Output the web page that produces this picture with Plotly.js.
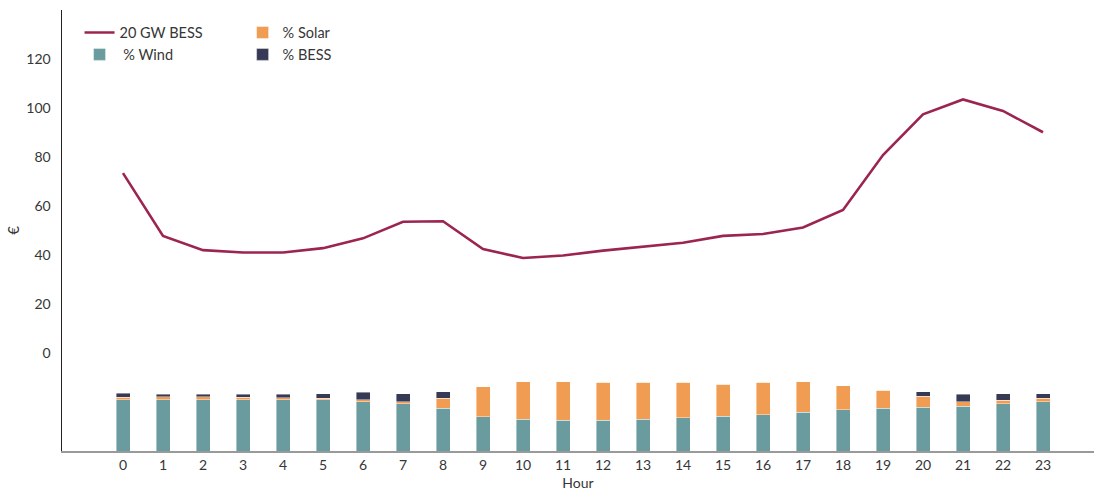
<!DOCTYPE html>
<html>
<head>
<meta charset="utf-8">
<script src="https://cdn.plot.ly/plotly-3.0.1.min.js"></script>
<style>
  html, body { margin: 0; padding: 0; background: #ffffff; }
  #chart { width: 1096px; height: 491px; }
</style>
</head>
<body>
<div id="chart"></div>
<script>
// Hours of the day
const hours = [0, 1, 2, 3, 4, 5, 6, 7, 8, 9, 10, 11, 12, 13, 14, 15, 16, 17, 18, 19, 20, 21, 22, 23];

// Hourly price with 20 GW of battery storage (€)
const priceBess = [73.4, 47.8, 42.0, 41.0, 41.0, 42.8, 46.8, 53.6, 53.8, 42.4, 38.8, 39.8,
                   41.8, 43.4, 45.0, 47.8, 48.6, 51.2, 58.4, 80.8, 97.4, 103.5, 98.8, 90.1];

// Share of generation by source (%)
const windShare  = [34.7, 34.7, 34.7, 34.7, 34.7, 34.7, 33.5, 32.0, 29.0, 23.3, 21.6, 20.9,
                    20.9, 21.6, 22.7, 23.6, 24.5, 26.3, 27.9, 29.0, 29.9, 30.6, 32.0, 33.5];
const solarShare = [1.8, 2.2, 2.2, 2.0, 1.6, 1.2, 1.4, 1.6, 6.8, 20.4, 25.4, 26.1,
                    25.9, 25.2, 24.1, 21.8, 22.2, 20.8, 16.5, 12.2, 7.3, 2.9, 2.5, 2.5];
const bessShare  = [2.7, 1.8, 1.8, 2.0, 2.3, 3.1, 5.0, 5.4, 4.5, 0, 0, 0,
                    0, 0, 0, 0, 0, 0, 0, 0, 3.1, 5.2, 4.3, 2.9];

// Axis labels
const priceTicks = [0, 20, 40, 60, 80, 100, 120];

const FONT = 'Lato, "Open Sans", sans-serif';
const TEXT = '#363636';

const barLine = { color: 'rgba(255,255,255,0.7)', width: 0.6 };

const traces = [
  {
    type: 'scatter', mode: 'lines', name: '20 GW BESS',
    x: hours, y: priceBess, yaxis: 'y', legend: 'legend',
    line: { color: '#9c2450', width: 2.6 }
  },
  {
    type: 'bar', name: ' % Wind', x: hours, y: windShare, yaxis: 'y2', legend: 'legend',
    marker: { color: '#6a9b9f', line: barLine }
  },
  {
    type: 'bar', name: '% Solar', x: hours, y: solarShare, yaxis: 'y2', legend: 'legend2',
    marker: { color: '#f09c52', line: barLine }
  },
  {
    type: 'bar', name: '% BESS', x: hours, y: bessShare, yaxis: 'y2', legend: 'legend2',
    marker: { color: '#363a55', line: barLine }
  }
];

const legendBase = {
  orientation: 'v', yanchor: 'top', xanchor: 'left', y: 0.985,
  traceorder: 'normal',
  bgcolor: 'rgba(0,0,0,0)', borderwidth: 0, tracegroupgap: 0,
  font: { family: FONT, size: 14.5, color: TEXT }
};

const layout = {
  width: 1096, height: 491,
  margin: { l: 62, r: 2, t: 10, b: 40 },
  paper_bgcolor: '#ffffff', plot_bgcolor: '#ffffff',
  font: { family: FONT, size: 14, color: TEXT },
  barmode: 'stack', bargap: 0.65,
  showlegend: true,
  legend: Object.assign({}, legendBase, { x: 0.017 }),
  legend2: Object.assign({}, legendBase, { x: 0.175 }),
  xaxis: {
    range: [-1.525, 24.275],
    tickmode: 'array', tickvals: hours, ticktext: hours.map(String),
    showgrid: false, zeroline: false,
    showline: true, linecolor: '#9a9a9a', linewidth: 2,
    ticks: '', ticklen: 0,
    tickfont: { family: FONT, size: 14, color: TEXT },
    title: { text: 'Hour', font: { family: FONT, size: 14, color: TEXT }, standoff: 6 }
  },
  yaxis: {
    range: [-40, 140],
    tickmode: 'array', tickvals: priceTicks, ticktext: priceTicks.map(String),
    showgrid: false, zeroline: false,
    showline: true, linecolor: '#222222', linewidth: 1.5,
    ticks: 'outside', ticklen: 7, tickwidth: 0, tickcolor: '#ffffff',
    tickfont: { family: FONT, size: 14, color: TEXT },
    title: { text: '€', font: { family: FONT, size: 15, color: TEXT }, standoff: 3 }
  },
  yaxis2: {
    overlaying: 'y', side: 'right',
    range: [0, 300],
    visible: false, showgrid: false, zeroline: false
  }
};

Plotly.newPlot('chart', traces, layout, { displayModeBar: false, staticPlot: true });
</script>
</body>
</html>
